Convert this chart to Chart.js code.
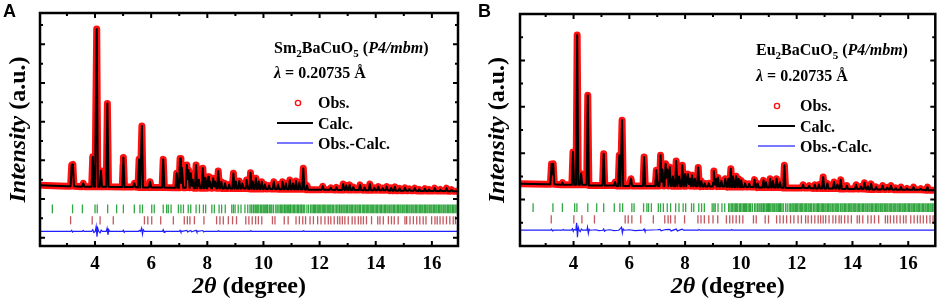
<!DOCTYPE html>
<html>
<head>
<meta charset="utf-8">
<script src="https://cdn.jsdelivr.net/npm/chart.js@4.4.1/dist/chart.umd.min.js"></script>
<style>
  html, body { margin: 0; padding: 0; background: #fff; }
  #wrap { position: relative; width: 941px; height: 303px; }
  .panel { position: absolute; top: 0; height: 303px; }
</style>
</head>
<body>
<div id="wrap">
  <div class="panel" style="left:0;width:470px"><canvas id="chartA" width="470" height="303"></canvas></div>
  <div class="panel" style="left:470px;width:471px"><canvas id="chartB" width="471" height="303"></canvas></div>
</div>
<script>
"use strict";

// ---- data (2theta in degree, intensity in a.u.) ----

// background level at whole degrees
const bgA = [27.2, 26.6, 26.4, 26.2, 26.0, 25.8, 25.6, 25.4, 25.2, 25.0, 24.8, 24.7, 24.5, 24.3, 24.1, 24.0];
const bgB = [26.9, 26.6, 26.4, 26.1, 25.9, 25.9, 25.8, 25.6, 25.4, 25.2, 25.0, 24.8, 24.6, 24.4, 24.2, 24.0];

// peaks: [2theta, top intensity]
const peaksA = [
  [3.17, 37.6], [3.21, 37.9], [3.58, 28.1], [3.92, 41.9], [4.06, 107.9], [4.21, 34.6], [4.44, 69.4],
  [5.01, 41.5], [5.40, 28.1], [5.57, 40.5], [5.67, 57.7], [5.96, 28.9], [6.43, 40.5], [6.91, 33.3],
  [7.03, 41.0], [7.10, 36.0], [7.27, 37.6], [7.33, 35.0], [7.41, 33.3], [7.48, 30.0], [7.60, 37.6],
  [7.70, 30.0], [7.84, 35.9], [7.93, 31.0], [8.03, 31.5], [8.10, 29.0], [8.21, 30.7], [8.28, 29.0],
  [8.39, 34.5], [8.50, 29.0], [8.63, 28.1], [8.78, 27.5], [8.93, 33.3], [9.02, 29.0], [9.14, 29.3],
  [9.25, 28.0], [9.40, 29.8], [9.54, 33.6], [9.62, 29.0], [9.73, 30.7], [9.83, 29.0], [9.94, 28.9],
  [10.05, 27.5], [10.20, 27.0], [10.37, 28.9], [10.52, 27.5], [10.68, 28.9], [10.80, 28.0], [10.94, 29.8],
  [11.05, 28.0], [11.16, 29.3], [11.28, 28.5], [11.42, 35.9], [11.55, 27.0], [12.11, 26.6], [12.40, 25.8],
  [12.60, 26.0], [12.84, 27.8], [12.95, 27.0], [13.07, 27.3], [13.20, 26.2], [13.44, 27.3], [13.60, 26.0],
  [13.79, 27.8], [13.95, 25.8], [14.09, 26.4], [14.25, 25.6], [14.39, 26.4], [14.55, 25.8], [14.68, 26.3],
  [14.85, 25.5], [15.04, 25.8], [15.20, 25.2], [15.39, 25.6], [15.55, 25.0], [15.75, 25.3], [15.90, 24.9],
  [16.10, 25.6], [16.30, 24.9], [16.52, 25.6], [16.70, 24.8]
];
const peaksB = [
  [3.21, 35.3], [3.27, 35.5], [3.60, 27.3], [3.98, 40.5], [4.13, 90.9], [4.27, 31.2], [4.51, 65.0],
  [5.08, 39.8], [5.49, 27.6], [5.64, 39.1], [5.74, 54.2], [6.06, 29.0], [6.53, 38.4], [6.97, 32.6],
  [7.12, 39.1], [7.19, 33.0], [7.30, 35.5], [7.36, 33.0], [7.45, 34.0], [7.56, 30.0], [7.68, 36.6],
  [7.78, 30.0], [7.90, 34.8], [8.00, 31.0], [8.10, 31.0], [8.17, 29.0], [8.25, 30.5], [8.35, 29.0],
  [8.47, 33.8], [8.58, 28.0], [8.70, 27.0], [8.85, 27.0], [9.03, 32.3], [9.10, 29.0], [9.18, 29.5],
  [9.30, 28.0], [9.44, 29.0], [9.55, 29.0], [9.64, 33.3], [9.72, 30.0], [9.83, 30.1], [9.92, 29.0],
  [10.01, 28.3], [10.15, 27.0], [10.30, 26.8], [10.49, 28.6], [10.60, 27.0], [10.81, 28.3], [10.90, 27.5],
  [11.05, 29.0], [11.15, 28.0], [11.28, 29.0], [11.40, 27.5], [11.56, 34.8], [12.23, 26.4], [12.45, 26.0],
  [12.65, 26.4], [12.80, 26.5], [12.95, 29.7], [13.10, 27.0], [13.34, 27.6], [13.46, 26.5], [13.58, 28.6],
  [13.80, 26.0], [14.13, 26.4], [14.30, 25.6], [14.43, 27.3], [14.55, 25.8], [14.67, 26.8], [14.85, 25.5],
  [15.08, 26.0], [15.25, 25.2], [15.38, 26.0], [15.55, 25.0], [15.74, 25.4], [15.95, 24.8], [16.19, 25.4],
  [16.45, 24.7], [16.69, 25.4]
];

// Obs.-Calc. residual: [2theta, deviation]
const diffA = [
  [2.0, 0], [3.14, 0], [3.17, 0.5], [3.20, -0.4], [3.23, 0], [3.55, 0], [3.58, 0.4], [3.61, 0],
  [3.88, 0], [3.92, 0.8], [3.96, -0.6], [4.01, 0], [4.04, 2.5], [4.07, -2.8], [4.10, 1.5], [4.13, 0],
  [4.18, -0.8], [4.22, 0.6], [4.26, 0], [4.40, 0], [4.43, 1.6], [4.46, -1.8], [4.49, 0.7], [4.52, 0],
  [4.98, 0], [5.01, 0.6], [5.04, -0.5], [5.07, 0], [5.55, 0], [5.58, 0.4], [5.62, 0], [5.66, 1.6],
  [5.69, -1.5], [5.72, 0.8], [5.76, 0], [6.40, 0], [6.43, 0.8], [6.46, -0.6], [6.49, 0], [7.00, 0],
  [7.03, 0.5], [7.06, -0.4], [7.10, 0], [7.27, 0.5], [7.30, -0.3], [7.41, 0.4], [7.44, -0.3], [7.50, 0],
  [7.60, 0.5], [7.63, -0.4], [7.66, 0], [7.84, 0.4], [7.87, -0.3], [7.92, 0], [8.37, 0], [8.40, 0.3],
  [8.43, 0], [9.52, 0], [9.55, 0.3], [9.58, 0], [11.40, 0], [11.43, 0.3], [11.46, 0], [17.0, 0]
];
const diffB = [
  [2.0, 0], [3.18, 0], [3.21, 0.4], [3.25, -0.3], [3.29, 0], [3.60, 0], [3.63, 0.3], [3.66, 0],
  [3.92, 0], [3.96, 0.6], [3.99, -0.5], [4.02, 0.3], [4.08, 0], [4.11, 3.2], [4.14, -3.0], [4.17, 1.2],
  [4.20, 0], [4.24, -0.6], [4.28, 0.5], [4.32, 0], [4.48, 0], [4.50, 1.3], [4.53, -1.4], [4.56, 0.4],
  [4.60, 0], [4.80, 0.2], [4.90, -0.2], [5.05, 0], [5.08, 0.5], [5.11, -0.4], [5.15, 0], [5.30, 0.2],
  [5.45, -0.2], [5.62, 0], [5.66, 0.5], [5.72, 1.3], [5.75, -1.2], [5.78, 0.5], [5.82, 0], [6.00, 0.2],
  [6.20, -0.2], [6.50, 0], [6.53, 0.5], [6.56, -0.4], [6.60, 0], [7.00, 0.2], [7.10, 0.4], [7.14, -0.3],
  [7.30, 0.3], [7.45, 0.4], [7.50, -0.3], [7.68, 0.5], [7.72, -0.3], [7.90, 0.4], [7.94, 0], [8.48, 0],
  [8.50, 0.3], [8.55, 0], [9.64, 0], [9.67, 0.3], [9.70, 0], [17.0, 0]
];

// Bragg reflection positions (green: main phase, red: second phase)
const braggGreenA = [
  2.48, 3.20, 3.55, 4.00, 4.08, 4.45, 4.77, 5.01, 5.40, 5.60, 5.69, 6.02, 6.11, 6.43, 6.55, 6.61, 6.71,
  6.97, 7.06, 7.15, 7.32, 7.41, 7.60, 7.72, 7.86, 7.94, 8.16, 8.25, 8.42, 8.51, 8.64, 8.87, 8.93, 8.99,
  9.10, 9.20, 9.34, 9.44, 9.52, 9.57, 9.63, 9.66, 9.71, 9.76, 9.80, 9.84, 9.90, 9.94, 9.99, 10.03, 10.08,
  10.12, 10.15, 10.21, 10.26, 10.30, 10.36, 10.44, 10.49, 10.55, 10.60, 10.64, 10.69, 10.74, 10.77, 10.81,
  10.86, 10.90, 10.94, 10.97, 11.02, 11.07, 11.11, 11.16, 11.21, 11.25, 11.30, 11.34, 11.37, 11.42, 11.47,
  11.55, 11.61, 11.68, 11.73, 11.78, 11.82, 11.86, 11.91, 11.95, 11.99, 12.04, 12.09, 12.13, 12.17, 12.22,
  12.27, 12.31, 12.36, 12.40, 12.45, 12.49, 12.55, 12.60, 12.65, 12.70, 12.73, 12.78, 12.83, 12.87, 12.91,
  12.96, 13.00, 13.05, 13.09, 13.14, 13.18, 13.23, 13.28, 13.33, 13.37, 13.42, 13.46, 13.52, 13.57, 13.61,
  13.66, 13.70, 13.75, 13.80, 13.84, 13.89, 13.93, 13.98, 14.03, 14.07, 14.12, 14.17, 14.21, 14.26, 14.31,
  14.35, 14.40, 14.44, 14.49, 14.54, 14.58, 14.63, 14.67, 14.72, 14.77, 14.81, 14.86, 14.90, 14.95, 15.00,
  15.04, 15.09, 15.13, 15.18, 15.22, 15.27, 15.32, 15.36, 15.41, 15.45, 15.50, 15.55, 15.59, 15.64, 15.68,
  15.73, 15.77, 15.82, 15.86, 15.91, 15.96, 16.00, 16.05, 16.09, 16.14, 16.18, 16.23, 16.27, 16.32, 16.36,
  16.41, 16.46, 16.50, 16.55, 16.59, 16.64, 16.68, 16.73, 16.77, 16.82, 16.86, 16.91
];
const braggRedA = [
  3.13, 3.90, 4.18, 4.65, 5.76, 5.88, 6.02, 6.34, 6.79, 7.18, 7.29, 7.38, 7.54, 7.88, 8.33, 8.45, 8.57,
  8.75, 8.90, 9.04, 9.37, 9.48, 9.60, 9.72, 9.82, 9.94, 10.32, 10.41, 10.74, 10.88, 11.16, 11.28, 11.40,
  11.50, 11.66, 11.78, 11.93, 12.05, 12.19, 12.31, 12.40, 12.52, 12.64, 12.72, 12.81, 12.90, 13.02, 13.16,
  13.26, 13.38, 13.47, 13.56, 13.67, 13.85, 14.07, 14.15, 14.27, 14.45, 14.56, 14.66, 14.80, 15.04, 15.10,
  15.22, 15.34, 15.46, 15.57, 15.69, 15.79, 15.99, 16.11, 16.19, 16.29, 16.40, 16.52, 16.64, 16.76, 16.84
];
const braggGreenB = [
  2.55, 3.26, 3.60, 4.04, 4.12, 4.51, 4.83, 5.08, 5.46, 5.66, 5.76, 6.09, 6.17, 6.51, 6.63, 6.69, 6.79,
  7.04, 7.12, 7.22, 7.36, 7.48, 7.66, 7.78, 7.93, 8.02, 8.23, 8.31, 8.49, 8.59, 8.69, 8.97, 9.03, 9.08,
  9.18, 9.32, 9.42, 9.56, 9.61, 9.67, 9.71, 9.76, 9.81, 9.85, 9.89, 9.95, 9.99, 10.04, 10.09, 10.13,
  10.17, 10.21, 10.26, 10.31, 10.35, 10.41, 10.49, 10.54, 10.60, 10.65, 10.69, 10.74, 10.79, 10.82, 10.86,
  10.91, 10.95, 10.99, 11.02, 11.07, 11.12, 11.16, 11.21, 11.26, 11.30, 11.35, 11.39, 11.42, 11.47, 11.52,
  11.60, 11.66, 11.73, 11.78, 11.83, 11.87, 11.91, 11.96, 12.00, 12.04, 12.09, 12.14, 12.18, 12.22, 12.27,
  12.32, 12.36, 12.41, 12.45, 12.50, 12.54, 12.60, 12.65, 12.70, 12.75, 12.78, 12.83, 12.88, 12.92, 12.96,
  13.01, 13.05, 13.10, 13.14, 13.19, 13.23, 13.28, 13.33, 13.38, 13.42, 13.47, 13.51, 13.57, 13.62, 13.66,
  13.71, 13.75, 13.80, 13.85, 13.89, 13.94, 13.98, 14.03, 14.08, 14.12, 14.17, 14.22, 14.26, 14.31, 14.36,
  14.40, 14.45, 14.49, 14.54, 14.59, 14.63, 14.68, 14.72, 14.77, 14.82, 14.86, 14.91, 14.95, 15.00, 15.05,
  15.09, 15.14, 15.18, 15.23, 15.27, 15.32, 15.37, 15.41, 15.46, 15.50, 15.55, 15.60, 15.64, 15.69, 15.73,
  15.78, 15.82, 15.87, 15.91, 15.96, 16.01, 16.05, 16.10, 16.14, 16.19, 16.23, 16.28, 16.32, 16.37, 16.41,
  16.46, 16.51, 16.55, 16.60, 16.64, 16.69, 16.73, 16.78, 16.82, 16.87, 16.92
];
const braggRedB = [
  3.20, 4.01, 4.30, 4.75, 5.85, 5.96, 6.09, 6.41, 6.86, 7.27, 7.39, 7.48, 7.64, 7.98, 8.46, 8.57, 8.69,
  8.85, 9.00, 9.17, 9.48, 9.60, 9.71, 9.83, 9.95, 10.07, 10.45, 10.55, 10.87, 10.99, 11.28, 11.40, 11.52,
  11.64, 11.78, 11.90, 12.05, 12.17, 12.32, 12.41, 12.53, 12.65, 12.77, 12.86, 12.95, 13.04, 13.16, 13.30,
  13.40, 13.52, 13.60, 13.72, 13.84, 13.96, 14.17, 14.25, 14.37, 14.55, 14.67, 14.79, 14.94, 15.18, 15.26,
  15.36, 15.48, 15.59, 15.71, 15.83, 15.92, 16.09, 16.21, 16.33, 16.43, 16.54, 16.66, 16.78, 16.89
];

// axis ticks
const xMajorTicks = [4, 6, 8, 10, 12, 14, 16];
const xMinorTicks = [3, 5, 7, 9, 11, 13, 15, 17];

// ---- helpers ----

// polyline through background knots, peak feet and peak tops (upper envelope)
function buildProfile(bg, peaks) {
  const hw = 0.04;
  const xs = [];
  bg.forEach((v, i) => xs.push(2 + i));
  peaks.forEach(p => xs.push(p[0] - hw, p[0], p[0] + hw));
  xs.sort((a, b) => a - b);
  return xs.map(x => {
    const k = Math.min(bg.length - 1, Math.max(0, Math.round(x) - 2));
    let y = bg[k];
    peaks.forEach(p => {
      const d = Math.abs(x - p[0]);
      if (d < hw) {
        const base = bg[Math.min(bg.length - 1, Math.max(0, Math.round(p[0]) - 2))];
        y = Math.max(y, p[1] - (p[1] - base) * d / hw);
      }
    });
    return { x: x, y: y };
  });
}

function drawRich(ctx, x, y, parts) {
  parts.forEach(p => {
    ctx.font = p[1];
    ctx.fillText(p[0], x, y + (p[2] || 0));
    x += ctx.measureText(p[0]).width;
  });
}

const SERIF = '"Liberation Serif", "Times New Roman", serif';
const B16 = 'bold 16px ' + SERIF;
const BI16 = 'bold italic 16px ' + SERIF;
const SUB = 'bold 11px ' + SERIF;

function decorPlugin(p) {
  return {
    id: 'decor',
    afterDatasetsDraw(chart) {
      const ctx = chart.ctx;
      const a = chart.chartArea;
      const xs = chart.scales.x, ys = chart.scales.y;
      ctx.save();
      ctx.strokeStyle = '#000';
      ctx.fillStyle = '#000';
      ctx.lineWidth = 2;
      // ticks, inward on all four sides
      const tickX = (v, len) => {
        const px = xs.getPixelForValue(v);
        if (px < a.left + 2 || px > a.right - 2) return;
        ctx.beginPath();
        ctx.moveTo(px, a.bottom); ctx.lineTo(px, a.bottom - len);
        ctx.moveTo(px, a.top); ctx.lineTo(px, a.top + len);
        ctx.stroke();
      };
      const tickY = (v, len) => {
        const py = ys.getPixelForValue(v);
        if (py < a.top + 1 || py > a.bottom + 1) return;
        ctx.beginPath();
        ctx.moveTo(a.left, py); ctx.lineTo(a.left + len, py);
        ctx.moveTo(a.right, py); ctx.lineTo(a.right - len, py);
        ctx.stroke();
      };
      xMajorTicks.forEach(v => tickX(v, 5));
      xMinorTicks.forEach(v => tickX(v, 3));
      p.yMajor.forEach(v => tickY(v, 5));
      p.yMinor.forEach(v => tickY(v, 3));
      // frame
      ctx.lineWidth = 2.5;
      ctx.strokeRect(a.left, a.top, a.right - a.left, a.bottom - a.top);

      // tick labels
      ctx.font = 'bold 19px ' + SERIF;
      ctx.textAlign = 'center';
      ctx.textBaseline = 'alphabetic';
      xMajorTicks.forEach(v => ctx.fillText(String(v), xs.getPixelForValue(v), a.bottom + 23));

      // x title
      ctx.textAlign = 'left';
      ctx.font = 'bold italic 24px ' + SERIF;
      const w1 = ctx.measureText('2\u03B8').width;
      ctx.font = 'bold 24px ' + SERIF;
      const w2 = ctx.measureText(' (degree)').width;
      const cx = (a.left + a.right) / 2;
      drawRich(ctx, cx - (w1 + w2) / 2, a.bottom + 47, [
        ['2\u03B8', 'bold italic 24px ' + SERIF], [' (degree)', 'bold 24px ' + SERIF]
      ]);

      // y title
      ctx.save();
      ctx.translate(p.yTitleX, (a.top + a.bottom) / 2);
      ctx.rotate(-Math.PI / 2);
      ctx.font = 'bold italic 24px ' + SERIF;
      const t1 = ctx.measureText('Intensity').width;
      ctx.font = 'bold 24px ' + SERIF;
      const t2 = ctx.measureText(' (a.u.)').width;
      drawRich(ctx, -(t1 + t2) / 2, 0, [
        ['Intensity', 'bold italic 24px ' + SERIF], [' (a.u.)', 'bold 24px ' + SERIF]
      ]);
      ctx.restore();

      // panel letter
      ctx.font = 'bold 18px "Liberation Sans", Arial, sans-serif';
      ctx.fillText(p.letter, p.letterX, 17);

      // compound and wavelength
      const L = p.note;
      drawRich(ctx, L.x, L.y1, [
        [p.elem, B16], ['2', SUB, 4], ['BaCuO', B16], ['5', SUB, 4], [' (', B16], ['P4/mbm', BI16], [')', B16]
      ]);
      drawRich(ctx, L.x, L.y2, [['\u03BB', BI16], [' = 0.20735 \u00C5', B16]]);

      // legend
      const G = p.legend;
      ctx.strokeStyle = '#ff1010';
      ctx.lineWidth = 1.4;
      ctx.beginPath();
      ctx.arc(G.cx, G.cy, 2.6, 0, Math.PI * 2);
      ctx.stroke();
      ctx.strokeStyle = '#000';
      ctx.lineWidth = 2;
      ctx.beginPath();
      ctx.moveTo(G.l0, G.cy + 20); ctx.lineTo(G.l1, G.cy + 20);
      ctx.stroke();
      ctx.strokeStyle = '#4a4aff';
      ctx.lineWidth = 1.5;
      ctx.beginPath();
      ctx.moveTo(G.l0, G.cy + 40); ctx.lineTo(G.l1, G.cy + 40);
      ctx.stroke();
      ctx.font = 'bold 16px ' + SERIF;
      ctx.fillStyle = '#000';
      ctx.fillText('Obs.', G.tx, G.cy + 5);
      ctx.fillText('Calc.', G.tx, G.cy + 25.5);
      ctx.fillText('Obs.-Calc.', G.tx, G.cy + 46);
      ctx.restore();
    }
  };
}

function makeChart(id, p) {
  const profile = buildProfile(p.bg, p.peaks);
  const diff = p.diff.map(d => ({ x: d[0], y: p.diffLevel + d[1] }));
  const green = p.green.map(v => ({ x: v, y: p.greenLevel }));
  const red = p.red.map(v => ({ x: v, y: p.redLevel }));

  new Chart(document.getElementById(id), {
    type: 'scatter',
    data: {
      datasets: [
        { label: 'Calc.', data: profile, showLine: true, borderColor: '#000', borderWidth: 2,
          pointRadius: 0, order: 0, borderJoinStyle: 'round' },
        { label: 'Obs.', data: profile, showLine: true, borderColor: '#ff1010', borderWidth: 7,
          pointRadius: 0, order: 1, borderJoinStyle: 'round', borderCapStyle: 'round' },
        { label: 'Obs.-Calc.', data: diff, showLine: true, borderColor: '#1f1fff', borderWidth: 1.2,
          pointRadius: 0, order: 2 },
        { label: 'phase 1', data: green, showLine: false, pointStyle: 'line', rotation: 90,
          pointRadius: 4.4, pointBorderWidth: 1.3, borderColor: 'rgba(0,145,20,0.8)', order: 3 },
        { label: 'phase 2', data: red, showLine: false, pointStyle: 'line', rotation: 90,
          pointRadius: 4.1, pointBorderWidth: 1.3, borderColor: 'rgba(170,15,25,0.7)', order: 3 }
      ]
    },
    options: {
      responsive: false,
      animation: false,
      devicePixelRatio: 1,
      layout: { padding: p.padding },
      scales: {
        x: { type: 'linear', min: p.xMin, max: p.xMax, display: false },
        y: { type: 'linear', min: p.yMin, max: p.yMax, display: false }
      },
      plugins: { legend: { display: false }, tooltip: { enabled: false } }
    },
    plugins: [decorPlugin(p)]
  });
}

makeChart('chartA', {
  bg: bgA, peaks: peaksA, diff: diffA, green: braggGreenA, red: braggRedA,
  diffLevel: 3.3, greenLevel: 14.9, redLevel: 9.0,
  xMin: 2.04, xMax: 16.93, yMin: -4.3, yMax: 116.2,
  yMajor: [0, 20, 40, 60, 80, 100], yMinor: [10, 30, 50, 70, 90, 110],
  padding: { left: 40, right: 12, top: 13, bottom: 57 },
  letter: 'A', letterX: 3, yTitleX: 25, elem: 'Sm',
  note: { x: 274, y1: 53, y2: 78 },
  legend: { cx: 298, cy: 103, l0: 277, l1: 313, tx: 318 }
});

makeChart('chartB', {
  bg: bgB, peaks: peaksB, diff: diffB, green: braggGreenB, red: braggRedB,
  diffLevel: 6.8, greenLevel: 16.5, redLevel: 11.5,
  xMin: 2.08, xMax: 16.97, yMin: 0, yMax: 100,
  yMajor: [0, 20, 40, 60, 80, 100], yMinor: [10, 30, 50, 70, 90],
  padding: { left: 50, right: 3, top: 14, bottom: 57 },
  letter: 'B', letterX: 8, yTitleX: 34, elem: 'Eu',
  note: { x: 286, y1: 55, y2: 81 },
  legend: { cx: 307, cy: 106, l0: 288, l1: 325, tx: 330 }
});
</script>
</body>
</html>
